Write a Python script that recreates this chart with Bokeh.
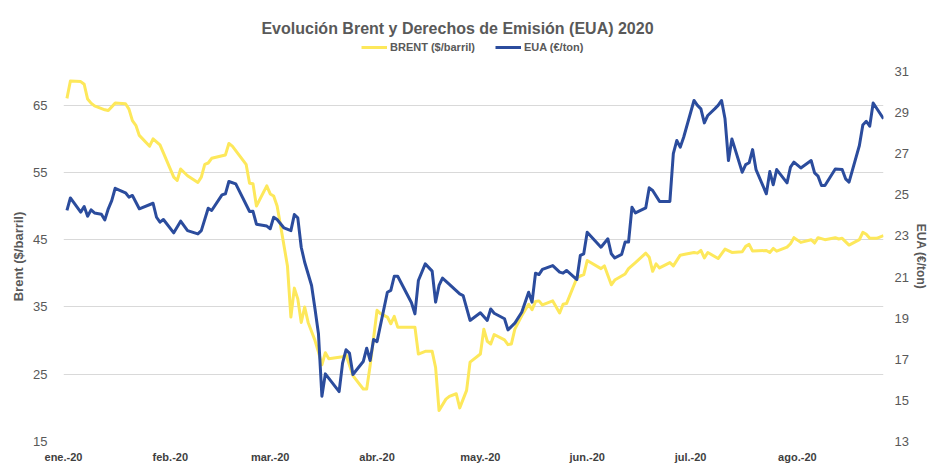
import pandas as pd
from bokeh.plotting import figure
from bokeh.layouts import column
from bokeh.models import Range1d, LinearAxis, FixedTicker, Legend, LegendItem, Label
from bokeh.embed import file_html
from bokeh.resources import INLINE

# ---------------- data ----------------
brent_dates = ["01-02", "01-03", "01-06", "01-07", "01-08", "01-09", "01-10", "01-13", "01-14", "01-16",
               "01-19", "01-20", "01-21", "01-22", "01-23", "01-26", "01-27", "01-29", "01-30", "02-02",
               "02-03", "02-04", "02-06", "02-09", "02-10", "02-11", "02-12", "02-13", "02-17", "02-18",
               "02-19", "02-23", "02-24", "02-25", "02-26", "02-29", "03-01", "03-02", "03-03", "03-04",
               "03-06", "03-07", "03-08", "03-09", "03-10", "03-11", "03-12", "03-14", "03-15", "03-16",
               "03-17", "03-18", "03-22", "03-23", "03-25", "03-28", "03-29", "03-30", "04-01", "04-02",
               "04-04", "04-05", "04-06", "04-07", "04-12", "04-13", "04-15", "04-17", "04-18", "04-19",
               "04-21", "04-22", "04-24", "04-25", "04-27", "04-28", "05-01", "05-02", "05-03", "05-04",
               "05-05", "05-08", "05-09", "05-10", "05-11", "05-13", "05-15", "05-16", "05-17", "05-18",
               "05-19", "05-22", "05-24", "05-25", "05-26", "05-29", "05-30", "05-31", "06-01", "06-05",
               "06-06", "06-08", "06-09", "06-12", "06-13", "06-15", "06-18", "06-19", "06-20", "06-21",
               "06-22", "06-25", "06-26", "06-28", "06-29", "07-02", "07-03", "07-04", "07-05", "07-06",
               "07-09", "07-11", "07-13", "07-16", "07-17", "07-18", "07-19", "07-23", "07-24", "07-25",
               "07-26", "07-29", "07-30", "07-31", "08-02", "08-05", "08-06", "08-07", "08-09", "08-12",
               "08-13", "08-14", "08-16", "08-19", "08-20", "08-21", "08-22", "08-24", "08-26"]
brent_values = [66.0, 68.6, 68.5, 68.1, 65.9, 65.3, 64.9, 64.3, 64.2, 65.3,
                65.2, 64.4, 62.7, 62.0, 60.5, 58.9, 60.0, 59.1, 57.9, 54.3,
                53.8, 55.5, 54.5, 53.5, 54.3, 56.2, 56.4, 57.1, 57.6, 59.3,
                58.9, 56.2, 53.4, 53.3, 50.0, 53.0, 51.8, 51.5, 50.0, 47.1,
                41.1, 33.5, 37.8, 36.2, 32.7, 35.0, 32.7, 30.0, 28.3, 26.4,
                28.2, 27.3, 27.6, 27.9, 24.8, 22.8, 22.8, 26.3, 34.5, 34.0,
                33.5, 32.5, 33.6, 32.0, 32.0, 28.0, 28.4, 28.4, 26.0, 19.6,
                21.3, 21.7, 22.1, 20.0, 22.6, 26.8, 28.0, 31.7, 29.9, 29.5,
                30.9, 30.1, 29.4, 29.5, 31.7, 33.7, 35.4, 34.6, 35.8, 35.9,
                35.3, 35.9, 34.1, 35.4, 35.5, 39.3, 39.6, 39.8, 41.9, 40.7,
                41.1, 38.3, 39.0, 39.9, 40.7, 41.6, 43.0, 42.4, 40.3, 41.4,
                40.8, 41.6, 41.1, 42.7, 42.8, 43.1, 43.0, 43.4, 42.3, 43.1,
                42.2, 43.6, 43.1, 43.2, 44.0, 44.3, 43.3, 43.4, 43.1, 43.7,
                43.3, 43.9, 44.4, 45.3, 44.6, 45.0, 44.5, 45.3, 45.0, 45.3,
                45.1, 45.2, 44.2, 45.0, 46.1, 45.8, 45.2, 45.2, 45.6]

eua_dates = ["01-02", "01-03", "01-06", "01-07", "01-08", "01-09", "01-10", "01-12", "01-13", "01-14",
             "01-15", "01-16", "01-19", "01-20", "01-21", "01-23", "01-27", "01-28", "01-29", "01-30",
             "02-02", "02-04", "02-06", "02-09", "02-10", "02-12", "02-13", "02-16", "02-17", "02-18",
             "02-20", "02-24", "02-25", "02-26", "02-29", "03-01", "03-02", "03-03", "03-05", "03-07",
             "03-08", "03-09", "03-10", "03-11", "03-13", "03-14", "03-15", "03-16", "03-17", "03-21",
             "03-22", "03-23", "03-24", "03-25", "03-28", "03-29", "03-30", "03-31", "04-01", "04-04",
             "04-05", "04-06", "04-07", "04-11", "04-12", "04-13", "04-15", "04-17", "04-18", "04-19",
             "04-20", "04-22", "04-25", "04-26", "04-28", "05-01", "05-03", "05-04", "05-05", "05-08",
             "05-09", "05-11", "05-13", "05-15", "05-16", "05-17", "05-18", "05-19", "05-22", "05-24",
             "05-25", "05-26", "05-29", "05-30", "05-31", "06-01", "06-05", "06-07", "06-08", "06-09",
             "06-11", "06-12", "06-13", "06-14", "06-15", "06-18", "06-19", "06-20", "06-22", "06-25",
             "06-26", "06-27", "06-28", "06-29", "07-02", "07-03", "07-04", "07-05", "07-06", "07-08",
             "07-09", "07-10", "07-11", "07-12", "07-13", "07-16", "07-17", "07-18", "07-19", "07-20",
             "07-23", "07-24", "07-25", "07-26", "07-29", "07-30", "07-31", "08-02", "08-05", "08-06",
             "08-07", "08-08", "08-09", "08-12", "08-14", "08-15", "08-16", "08-19", "08-20", "08-21",
             "08-22", "08-23", "08-26"]
eua_values = [24.24, 24.85, 24.16, 24.43, 23.96, 24.27, 24.12, 24.06, 23.78, 24.32,
              24.72, 25.32, 25.10, 24.89, 24.97, 24.32, 24.59, 23.91, 23.67, 23.80,
              23.15, 23.72, 23.26, 23.10, 23.26, 24.35, 24.24, 25.00, 25.05, 25.65,
              25.53, 24.19, 24.20, 23.57, 23.48, 23.35, 23.91, 23.80, 23.39, 23.26,
              24.04, 23.88, 22.45, 21.72, 20.59, 19.45, 18.24, 15.20, 16.29, 15.43,
              16.81, 17.46, 17.30, 16.26, 16.89, 17.54, 16.94, 17.96, 17.86, 20.26,
              20.35, 21.04, 21.04, 19.75, 19.21, 20.83, 21.64, 21.29, 19.78, 20.59,
              20.95, 20.64, 20.18, 20.10, 18.89, 19.26, 18.89, 19.45, 19.24, 18.97,
              18.43, 18.76, 19.29, 20.26, 19.78, 21.19, 21.12, 21.37, 21.56, 21.24,
              21.19, 21.32, 20.88, 22.05, 22.13, 23.18, 22.45, 22.86, 22.13, 21.93,
              22.10, 22.70, 22.70, 24.40, 24.12, 24.37, 25.34, 25.21, 24.68, 24.68,
              27.00, 27.64, 27.32, 27.80, 29.59, 29.35, 29.18, 28.50, 28.86, 29.18,
              29.35, 29.59, 28.70, 26.67, 27.72, 26.10, 26.47, 26.56, 27.20, 26.23,
              25.05, 26.13, 25.49, 26.23, 25.58, 26.35, 26.59, 26.31, 26.67, 26.07,
              25.91, 25.45, 25.45, 26.26, 26.23, 25.78, 25.62, 27.40, 28.40, 28.58,
              28.34, 29.47, 28.70]

month_days = [0, 31, 60, 91, 121, 152, 182, 213]
month_labels = ["ene.-20", "feb.-20", "mar.-20", "abr.-20", "may.-20", "jun.-20", "jul.-20", "ago.-20"]
brent_ticks = [15, 25, 35, 45, 55, 65]
eua_ticks = [13, 15, 17, 19, 21, 23, 25, 27, 29, 31]

title_text = "Evolución Brent y Derechos de Emisión (EUA) 2020"
brent_label = "BRENT ($/barril)"
eua_label = "EUA (€/ton)"

# ---------------- styling ----------------
YEL = "#FDE85B"
BLUE = "#2B4C9D"
GREY = "#595959"
FONT = "Liberation Sans"

origin = pd.Timestamp("2020-01-01")
bx = list((pd.to_datetime(["2020-" + d for d in brent_dates]) - origin).days)
ex = list((pd.to_datetime(["2020-" + d for d in eua_dates]) - origin).days)

# ---------- header strip: title + legend (frame aligned with main chart: x 63..883) ----------
head = figure(width=930, height=63, output_backend="svg", toolbar_location=None,
              x_axis_location=None, y_axis_location=None,
              x_range=Range1d(0, 1), y_range=Range1d(0, 1),
              min_border_left=63, min_border_right=47, min_border_top=0, min_border_bottom=0)
head.outline_line_color = None
head.grid.visible = False
head.background_fill_color = "white"
head.border_fill_color = "white"
# legend key renderers (points kept outside the visible range)
h1 = head.line([-5, -4], [-5, -4], line_color=YEL, line_width=3)
h2 = head.line([-5, -4], [-5, -4], line_color=BLUE, line_width=3)
head.add_layout(Label(x=394, y=35, x_units="screen", y_units="screen", text=title_text,
                      text_align="center", text_baseline="alphabetic", text_font=FONT,
                      text_font_size="16px", text_font_style="bold", text_color=GREY))
legend = Legend(items=[LegendItem(label=brent_label, renderers=[h1]),
                       LegendItem(label=eua_label, renderers=[h2])],
                orientation="horizontal", location=(298, 6),
                glyph_width=26, glyph_height=20, label_height=20, label_standoff=3, spacing=20,
                padding=0, margin=0, border_line_color=None, background_fill_alpha=0,
                label_text_font=FONT, label_text_font_style="bold",
                label_text_font_size="11px", label_text_color=GREY)
head.add_layout(legend, "center")

# ---------- main chart ----------
p = figure(width=930, height=403, output_backend="svg", toolbar_location=None,
           x_range=Range1d(0, 238), y_range=Range1d(15, 70),
           min_border_left=63, min_border_right=47, min_border_top=8, min_border_bottom=25)
p.extra_y_ranges = {"eua": Range1d(13, 31)}
p.outline_line_color = None
p.background_fill_color = "white"
p.border_fill_color = "white"

r1 = p.line(bx, brent_values, line_color=YEL, line_width=3, line_join="round")
r2 = p.line(ex, eua_values, line_color=BLUE, line_width=3, line_join="round", y_range_name="eua")

p.xgrid.visible = False
p.ygrid.grid_line_color = "#D9D9D9"
p.ygrid.grid_line_width = 1

def style_axis(ax, size="13px"):
    ax.axis_line_color = None
    ax.major_tick_line_color = None
    ax.minor_tick_line_color = None
    ax.major_tick_out = 0
    ax.major_tick_in = 0
    ax.minor_tick_out = 0
    ax.minor_tick_in = 0
    ax.major_label_text_font = FONT
    ax.major_label_text_font_size = size
    ax.major_label_text_color = GREY
    ax.axis_label_text_font = FONT
    ax.axis_label_text_font_style = "bold"
    ax.axis_label_text_color = GREY

ya = p.yaxis[0]
style_axis(ya)
ya.ticker = FixedTicker(ticks=brent_ticks)
ya.axis_label = "Brent ($/barril)"
ya.axis_label_text_font_size = "13px"
ya.axis_label_standoff = 4
ya.major_label_standoff = 16

ra = LinearAxis(y_range_name="eua", ticker=FixedTicker(ticks=eua_ticks))
style_axis(ra)
ra.axis_label = "EUA (€/ton)"
ra.axis_label_text_font_size = "12px"
ra.axis_label_standoff = 2
ra.major_label_standoff = 11
p.add_layout(ra, "right")

xa = p.xaxis[0]
style_axis(xa, "11px")
xa.ticker = FixedTicker(ticks=month_days)
xa.major_label_overrides = dict(zip(month_days, month_labels))
xa.major_label_text_font_style = "bold"
xa.major_label_text_color = "#404040"
xa.major_label_standoff = 9

layout = column(head, p, spacing=0)
open("out.html", "w").write(file_html(layout, INLINE))
